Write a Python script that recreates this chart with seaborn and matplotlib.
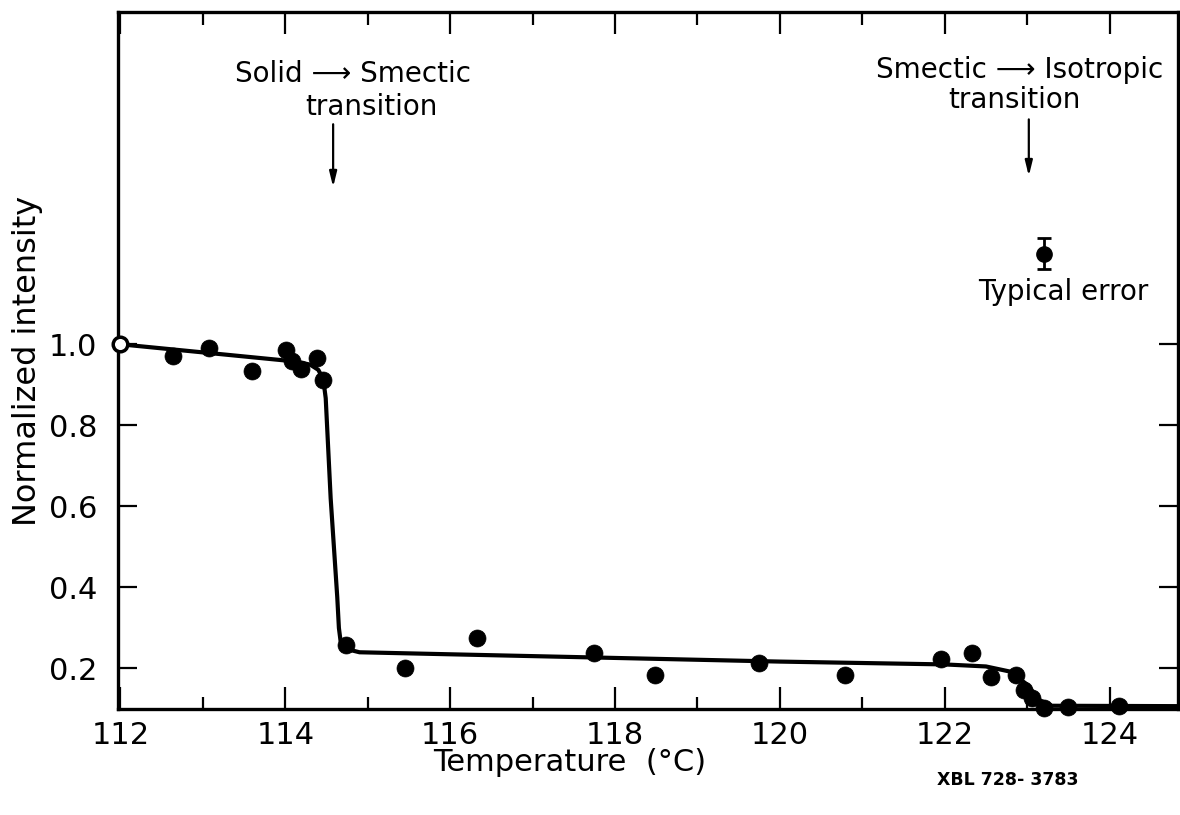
import matplotlib
matplotlib.use('Agg')
import matplotlib.pyplot as plt
import seaborn as sns
from matplotlib.ticker import MultipleLocator, FixedLocator

temp_c = [112.64, 113.07, 113.59, 114.01, 114.08, 114.19, 114.38, 114.46,
          114.74, 115.45, 116.32, 117.75, 118.48, 119.75, 120.79, 121.96,
          122.33, 122.56, 122.86, 122.96, 123.06, 123.20, 123.49, 124.11]
intensity = [0.970, 0.990, 0.934, 0.985, 0.958, 0.940, 0.966, 0.912,
             0.259, 0.200, 0.274, 0.239, 0.183, 0.213, 0.183, 0.224,
             0.238, 0.180, 0.185, 0.148, 0.127, 0.102, 0.104, 0.107]

# reference point (open circle)
open_temp = [112.0]
open_intensity = [1.0]

# hand-drawn guide curve
fit_temp = [112.0, 113.0, 114.1, 114.3, 114.40, 114.46, 114.49, 114.55,
            114.63, 114.65, 114.67, 114.72, 114.80, 114.90, 116.0, 118.0,
            120.0, 122.0, 122.5, 122.8, 123.0, 123.15, 123.3, 124.9]
fit_intensity = [1.0, 0.980, 0.958, 0.950, 0.937, 0.914, 0.867, 0.620,
                 0.376, 0.300, 0.268, 0.252, 0.245, 0.240, 0.235, 0.226,
                 0.217, 0.210, 0.205, 0.192, 0.160, 0.122, 0.108, 0.107]

# typical error bar
err_temp = 123.2
err_val = 1.224
err_size = 0.039

sns.set_style('ticks')
plt.rcParams['font.family'] = ['DejaVu Sans']
plt.rcParams['text.color'] = 'black'
plt.rcParams['axes.labelcolor'] = 'black'
plt.rcParams['xtick.color'] = 'black'
plt.rcParams['ytick.color'] = 'black'

fig = plt.figure(figsize=(11.8, 8.15), dpi=100)
ax = fig.add_axes([118 / 1180, 1 - 709 / 815, 1060 / 1180, 697 / 815])

sns.lineplot(x=fit_temp, y=fit_intensity, ax=ax, color='black', lw=3,
             estimator=None, zorder=2)
sns.scatterplot(x=temp_c, y=intensity, ax=ax, s=150, color='black',
                edgecolor='black', linewidth=0.5, clip_on=False, zorder=3)
sns.scatterplot(x=open_temp, y=open_intensity, ax=ax, s=110, color='white',
                edgecolor='black', linewidth=2.5, clip_on=False, zorder=4)

ax.errorbar([err_temp], [err_val], yerr=[err_size], fmt='o', color='black',
            ms=11, capsize=5, elinewidth=2, capthick=2)
ax.text(123.44, 1.13, 'Typical error', fontsize=20, ha='center', va='center')

# annotations
ax.text(114.82, 1.666, 'Solid \u27f6 Smectic', fontsize=20, ha='center', va='center')
ax.text(115.05, 1.585, 'transition', fontsize=20, ha='center', va='center')
ax.annotate('', xy=(114.58, 1.388), xytext=(114.58, 1.543),
            arrowprops=dict(arrowstyle='-|>,head_length=0.9,head_width=0.22',
                            lw=1.6, color='black', shrinkA=0, shrinkB=0))
ax.text(122.91, 1.678, 'Smectic \u27f6 Isotropic', fontsize=20, ha='center', va='center')
ax.text(122.85, 1.604, 'transition', fontsize=20, ha='center', va='center')
ax.annotate('', xy=(123.02, 1.415), xytext=(123.02, 1.555),
            arrowprops=dict(arrowstyle='-|>,head_length=0.9,head_width=0.22',
                            lw=1.6, color='black', shrinkA=0, shrinkB=0))

ax.set_xlim(111.97, 124.83)
ax.set_ylim(0.10, 1.82)

ax.xaxis.set_major_locator(MultipleLocator(2))
ax.xaxis.set_minor_locator(MultipleLocator(1))
ax.yaxis.set_major_locator(FixedLocator([0.2, 0.4, 0.6, 0.8, 1.0]))
ax.set_yticklabels(['0.2', '0.4', '0.6', '0.8', '1.0'])
ax.set_xticks([112, 114, 116, 118, 120, 122, 124])
ax.set_xticklabels(['112', '114', '116', '118', '120', '122', '124'])

ax.tick_params(axis='x', which='major', direction='in', top=True, length=16,
               width=1.6, labelsize=22, pad=9, color='black')
ax.tick_params(axis='x', which='minor', direction='in', top=True, length=9,
               width=1.6, color='black')
ax.tick_params(axis='y', which='major', direction='in', right=True, length=14,
               width=1.6, labelsize=22, pad=15, color='black')

for sp in ax.spines.values():
    sp.set_linewidth(2.4)
    sp.set_color('black')

ax.set_xlabel('')
ax.set_ylabel('Normalized intensity', fontsize=23, labelpad=4)
ax.text(0.426, -0.077, 'Temperature  (\u00b0C)', transform=ax.transAxes,
        fontsize=22, ha='center', va='center')
ax.text(0.839, -0.102, 'XBL 728- 3783', transform=ax.transAxes,
        fontsize=12.5, fontweight='bold', ha='center', va='center')

fig.savefig('out.png', dpi=100)
